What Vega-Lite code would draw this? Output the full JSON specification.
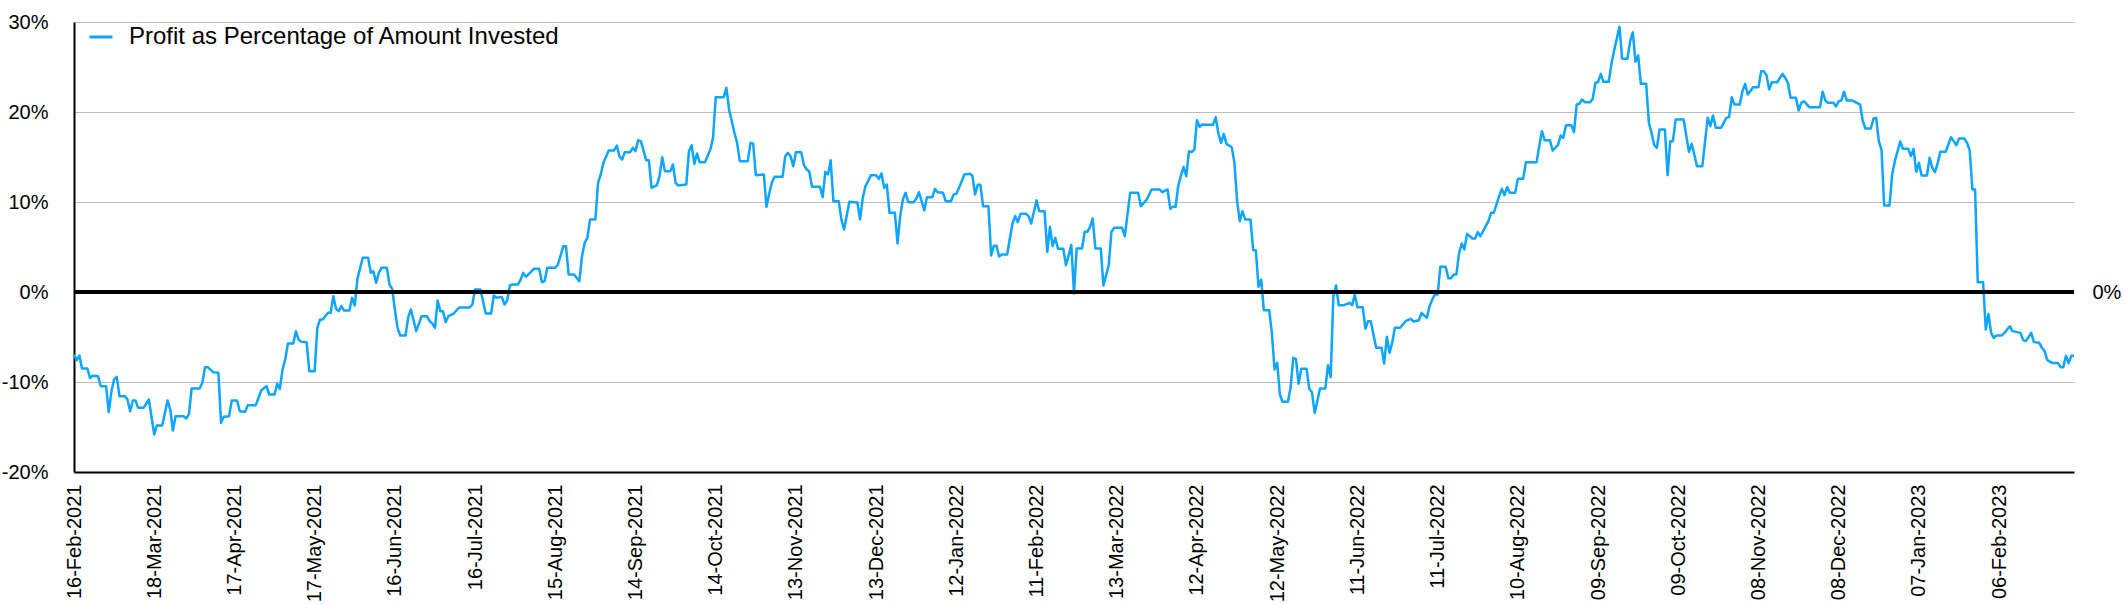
{
  "$schema": "https://vega.github.io/schema/vega-lite/v6.json",
  "width": 2000,
  "height": 450,
  "autosize": {"type": "none"},
  "padding": {"left": 74, "top": 22, "right": 50, "bottom": 132},
  "background": "white",
  "config": {"view": {"stroke": null}, "font": "Liberation Sans"},
  "data": {"values": [
{"date":"2021-02-16","pct":-6.94},{"date":"2021-02-17","pct":-7.57},{"date":"2021-02-18","pct":-7.06},{"date":"2021-02-19","pct":-8.50},{"date":"2021-02-21","pct":-8.50},{"date":"2021-02-22","pct":-9.54},{"date":"2021-02-23","pct":-9.31},{"date":"2021-02-25","pct":-9.35},{"date":"2021-02-26","pct":-10.46},{"date":"2021-02-28","pct":-10.46},
{"date":"2021-03-01","pct":-13.35},{"date":"2021-03-02","pct":-11.02},{"date":"2021-03-03","pct":-9.72},{"date":"2021-03-04","pct":-9.43},{"date":"2021-03-05","pct":-11.57},{"date":"2021-03-07","pct":-11.57},{"date":"2021-03-08","pct":-11.94},{"date":"2021-03-09","pct":-13.24},{"date":"2021-03-10","pct":-12.06},{"date":"2021-03-11","pct":-12.06},{"date":"2021-03-12","pct":-12.87},{"date":"2021-03-14","pct":-12.87},{"date":"2021-03-16","pct":-11.94},{"date":"2021-03-18","pct":-15.83},{"date":"2021-03-19","pct":-14.83},{"date":"2021-03-21","pct":-14.83},{"date":"2021-03-23","pct":-12.06},{"date":"2021-03-24","pct":-13.06},{"date":"2021-03-25","pct":-15.39},{"date":"2021-03-26","pct":-13.80},{"date":"2021-03-29","pct":-13.80},{"date":"2021-03-30","pct":-14.06},{"date":"2021-03-31","pct":-13.54},
{"date":"2021-04-01","pct":-10.72},{"date":"2021-04-04","pct":-10.72},{"date":"2021-04-05","pct":-10.09},{"date":"2021-04-06","pct":-8.35},{"date":"2021-04-07","pct":-8.35},{"date":"2021-04-09","pct":-8.91},{"date":"2021-04-11","pct":-8.98},{"date":"2021-04-12","pct":-14.54},{"date":"2021-04-13","pct":-13.87},{"date":"2021-04-15","pct":-13.80},{"date":"2021-04-16","pct":-12.06},{"date":"2021-04-18","pct":-12.06},{"date":"2021-04-19","pct":-13.24},{"date":"2021-04-21","pct":-13.31},{"date":"2021-04-22","pct":-12.57},{"date":"2021-04-25","pct":-12.57},{"date":"2021-04-27","pct":-10.94},{"date":"2021-04-29","pct":-10.46},{"date":"2021-04-30","pct":-11.39},
{"date":"2021-05-02","pct":-11.39},{"date":"2021-05-03","pct":-10.20},{"date":"2021-05-04","pct":-10.76},{"date":"2021-05-05","pct":-8.61},{"date":"2021-05-06","pct":-7.50},{"date":"2021-05-07","pct":-5.72},{"date":"2021-05-09","pct":-5.72},{"date":"2021-05-10","pct":-4.35},{"date":"2021-05-11","pct":-5.28},{"date":"2021-05-12","pct":-5.54},{"date":"2021-05-14","pct":-5.57},{"date":"2021-05-15","pct":-8.80},{"date":"2021-05-17","pct":-8.80},{"date":"2021-05-18","pct":-3.98},{"date":"2021-05-19","pct":-3.06},{"date":"2021-05-20","pct":-3.06},{"date":"2021-05-22","pct":-2.31},{"date":"2021-05-23","pct":-2.31},{"date":"2021-05-24","pct":-0.46},{"date":"2021-05-25","pct":-1.87},{"date":"2021-05-26","pct":-2.13},{"date":"2021-05-27","pct":-1.57},{"date":"2021-05-28","pct":-2.06},{"date":"2021-05-30","pct":-2.06},{"date":"2021-05-31","pct":-0.65},
{"date":"2021-06-01","pct":-1.50},{"date":"2021-06-02","pct":1.46},{"date":"2021-06-04","pct":3.80},{"date":"2021-06-06","pct":3.80},{"date":"2021-06-07","pct":2.13},{"date":"2021-06-08","pct":2.31},{"date":"2021-06-09","pct":1.02},{"date":"2021-06-10","pct":2.13},{"date":"2021-06-11","pct":2.69},{"date":"2021-06-13","pct":2.69},{"date":"2021-06-14","pct":0.83},{"date":"2021-06-15","pct":0.35},{"date":"2021-06-16","pct":-1.94},{"date":"2021-06-17","pct":-3.98},{"date":"2021-06-18","pct":-4.83},{"date":"2021-06-20","pct":-4.83},{"date":"2021-06-21","pct":-2.80},{"date":"2021-06-22","pct":-1.94},{"date":"2021-06-24","pct":-4.35},{"date":"2021-06-26","pct":-2.69},{"date":"2021-06-28","pct":-2.69},{"date":"2021-06-29","pct":-3.24},{"date":"2021-06-30","pct":-3.50},
{"date":"2021-07-01","pct":-3.98},{"date":"2021-07-02","pct":-0.94},{"date":"2021-07-03","pct":-2.13},{"date":"2021-07-04","pct":-2.13},{"date":"2021-07-05","pct":-3.35},{"date":"2021-07-06","pct":-2.69},{"date":"2021-07-08","pct":-2.39},{"date":"2021-07-10","pct":-1.72},{"date":"2021-07-14","pct":-1.72},{"date":"2021-07-15","pct":-1.39},{"date":"2021-07-16","pct":0.28},{"date":"2021-07-18","pct":0.28},{"date":"2021-07-20","pct":-2.39},{"date":"2021-07-22","pct":-2.39},{"date":"2021-07-23","pct":-0.39},{"date":"2021-07-24","pct":-0.65},{"date":"2021-07-26","pct":-0.54},{"date":"2021-07-27","pct":-1.39},{"date":"2021-07-28","pct":-0.94},{"date":"2021-07-29","pct":0.72},{"date":"2021-07-30","pct":0.83},
{"date":"2021-08-01","pct":0.83},{"date":"2021-08-02","pct":1.35},{"date":"2021-08-03","pct":2.13},{"date":"2021-08-04","pct":1.69},{"date":"2021-08-07","pct":2.57},{"date":"2021-08-09","pct":2.57},{"date":"2021-08-10","pct":1.09},{"date":"2021-08-11","pct":1.20},{"date":"2021-08-12","pct":2.69},{"date":"2021-08-15","pct":2.69},{"date":"2021-08-16","pct":3.06},{"date":"2021-08-18","pct":5.09},{"date":"2021-08-19","pct":5.09},{"date":"2021-08-20","pct":1.94},{"date":"2021-08-22","pct":1.94},{"date":"2021-08-24","pct":1.20},{"date":"2021-08-25","pct":3.98},{"date":"2021-08-26","pct":5.46},{"date":"2021-08-27","pct":6.02},{"date":"2021-08-28","pct":8.06},{"date":"2021-08-30","pct":8.06},{"date":"2021-08-31","pct":12.13},
{"date":"2021-09-01","pct":13.06},{"date":"2021-09-02","pct":14.35},{"date":"2021-09-04","pct":15.72},{"date":"2021-09-06","pct":15.72},{"date":"2021-09-07","pct":16.28},{"date":"2021-09-08","pct":15.09},{"date":"2021-09-09","pct":14.72},{"date":"2021-09-10","pct":15.54},{"date":"2021-09-12","pct":15.54},{"date":"2021-09-13","pct":16.02},{"date":"2021-09-14","pct":15.65},{"date":"2021-09-15","pct":16.87},{"date":"2021-09-16","pct":16.76},{"date":"2021-09-18","pct":14.65},{"date":"2021-09-19","pct":14.65},{"date":"2021-09-20","pct":11.57},{"date":"2021-09-22","pct":11.87},{"date":"2021-09-23","pct":12.87},{"date":"2021-09-24","pct":14.98},{"date":"2021-09-25","pct":13.43},{"date":"2021-09-27","pct":13.43},{"date":"2021-09-28","pct":14.17},{"date":"2021-09-29","pct":12.13},{"date":"2021-09-30","pct":11.83},
{"date":"2021-10-03","pct":11.94},{"date":"2021-10-04","pct":15.65},{"date":"2021-10-05","pct":16.31},{"date":"2021-10-06","pct":14.24},{"date":"2021-10-07","pct":15.39},{"date":"2021-10-08","pct":14.43},{"date":"2021-10-10","pct":14.43},{"date":"2021-10-12","pct":15.83},{"date":"2021-10-13","pct":17.13},{"date":"2021-10-14","pct":21.65},{"date":"2021-10-17","pct":21.65},{"date":"2021-10-18","pct":22.69},{"date":"2021-10-19","pct":20.28},{"date":"2021-10-21","pct":17.69},{"date":"2021-10-22","pct":16.57},{"date":"2021-10-23","pct":14.54},{"date":"2021-10-26","pct":14.54},{"date":"2021-10-27","pct":16.57},{"date":"2021-10-28","pct":16.50},{"date":"2021-10-29","pct":12.98},
{"date":"2021-11-01","pct":13.06},{"date":"2021-11-02","pct":9.46},{"date":"2021-11-03","pct":10.94},{"date":"2021-11-04","pct":12.13},{"date":"2021-11-05","pct":12.80},{"date":"2021-11-08","pct":12.80},{"date":"2021-11-09","pct":15.09},{"date":"2021-11-10","pct":15.46},{"date":"2021-11-11","pct":15.09},{"date":"2021-11-12","pct":13.98},{"date":"2021-11-13","pct":15.54},{"date":"2021-11-15","pct":15.54},{"date":"2021-11-16","pct":14.09},{"date":"2021-11-17","pct":13.61},{"date":"2021-11-18","pct":13.39},{"date":"2021-11-19","pct":11.69},{"date":"2021-11-22","pct":11.69},{"date":"2021-11-23","pct":10.54},{"date":"2021-11-24","pct":13.35},{"date":"2021-11-25","pct":13.06},{"date":"2021-11-26","pct":14.65},{"date":"2021-11-27","pct":10.09},{"date":"2021-11-29","pct":10.09},{"date":"2021-11-30","pct":8.06},
{"date":"2021-12-01","pct":6.94},{"date":"2021-12-03","pct":10.02},{"date":"2021-12-06","pct":9.94},{"date":"2021-12-07","pct":8.06},{"date":"2021-12-08","pct":10.46},{"date":"2021-12-09","pct":11.76},{"date":"2021-12-10","pct":12.31},{"date":"2021-12-11","pct":12.98},{"date":"2021-12-13","pct":12.98},{"date":"2021-12-14","pct":12.57},{"date":"2021-12-15","pct":13.17},{"date":"2021-12-16","pct":11.57},{"date":"2021-12-17","pct":11.94},{"date":"2021-12-18","pct":8.80},{"date":"2021-12-20","pct":8.80},{"date":"2021-12-21","pct":5.39},{"date":"2021-12-22","pct":8.43},{"date":"2021-12-23","pct":10.28},{"date":"2021-12-24","pct":11.02},{"date":"2021-12-25","pct":9.98},{"date":"2021-12-27","pct":9.98},{"date":"2021-12-28","pct":10.35},{"date":"2021-12-29","pct":11.09},{"date":"2021-12-31","pct":9.06},
{"date":"2022-01-01","pct":10.54},{"date":"2022-01-03","pct":10.54},{"date":"2022-01-04","pct":11.46},{"date":"2022-01-05","pct":11.09},{"date":"2022-01-07","pct":11.02},{"date":"2022-01-08","pct":10.09},{"date":"2022-01-10","pct":10.09},{"date":"2022-01-11","pct":10.83},{"date":"2022-01-12","pct":10.91},{"date":"2022-01-13","pct":11.57},{"date":"2022-01-15","pct":13.06},{"date":"2022-01-17","pct":13.13},{"date":"2022-01-18","pct":12.94},{"date":"2022-01-19","pct":10.83},{"date":"2022-01-20","pct":11.91},{"date":"2022-01-21","pct":11.91},{"date":"2022-01-22","pct":9.54},{"date":"2022-01-24","pct":9.54},{"date":"2022-01-25","pct":4.06},{"date":"2022-01-26","pct":5.13},{"date":"2022-01-27","pct":5.13},{"date":"2022-01-28","pct":3.94},{"date":"2022-01-29","pct":4.17},{"date":"2022-01-31","pct":4.17},
{"date":"2022-02-01","pct":5.91},{"date":"2022-02-02","pct":7.61},{"date":"2022-02-03","pct":8.43},{"date":"2022-02-04","pct":7.76},{"date":"2022-02-05","pct":8.69},{"date":"2022-02-07","pct":8.69},{"date":"2022-02-08","pct":8.43},{"date":"2022-02-09","pct":7.61},{"date":"2022-02-11","pct":10.20},{"date":"2022-02-12","pct":8.98},{"date":"2022-02-14","pct":8.98},{"date":"2022-02-15","pct":4.46},{"date":"2022-02-16","pct":7.24},{"date":"2022-02-17","pct":5.09},{"date":"2022-02-18","pct":6.02},{"date":"2022-02-19","pct":4.80},{"date":"2022-02-21","pct":4.80},{"date":"2022-02-22","pct":2.98},{"date":"2022-02-23","pct":4.06},{"date":"2022-02-24","pct":5.24},{"date":"2022-02-25","pct":-0.17},{"date":"2022-02-26","pct":4.83},{"date":"2022-02-28","pct":4.83},
{"date":"2022-03-01","pct":6.69},{"date":"2022-03-02","pct":6.69},{"date":"2022-03-03","pct":7.24},{"date":"2022-03-04","pct":8.17},{"date":"2022-03-05","pct":4.83},{"date":"2022-03-07","pct":4.83},{"date":"2022-03-08","pct":0.72},{"date":"2022-03-09","pct":1.87},{"date":"2022-03-10","pct":2.98},{"date":"2022-03-11","pct":6.69},{"date":"2022-03-12","pct":7.13},{"date":"2022-03-15","pct":7.13},{"date":"2022-03-16","pct":6.20},{"date":"2022-03-18","pct":11.02},{"date":"2022-03-21","pct":11.02},{"date":"2022-03-22","pct":9.54},{"date":"2022-03-24","pct":10.17},{"date":"2022-03-25","pct":10.76},{"date":"2022-03-26","pct":11.39},{"date":"2022-03-29","pct":11.39},{"date":"2022-03-30","pct":11.09},
{"date":"2022-04-01","pct":11.39},{"date":"2022-04-02","pct":9.24},{"date":"2022-04-03","pct":9.46},{"date":"2022-04-04","pct":9.46},{"date":"2022-04-05","pct":11.83},{"date":"2022-04-06","pct":12.94},{"date":"2022-04-07","pct":13.91},{"date":"2022-04-08","pct":12.87},{"date":"2022-04-09","pct":15.65},{"date":"2022-04-10","pct":15.54},{"date":"2022-04-11","pct":15.83},{"date":"2022-04-12","pct":19.09},{"date":"2022-04-13","pct":18.35},{"date":"2022-04-14","pct":18.61},{"date":"2022-04-16","pct":18.57},{"date":"2022-04-18","pct":18.57},{"date":"2022-04-19","pct":19.43},{"date":"2022-04-20","pct":17.61},{"date":"2022-04-21","pct":16.57},{"date":"2022-04-22","pct":17.57},{"date":"2022-04-23","pct":16.46},{"date":"2022-04-25","pct":16.09},{"date":"2022-04-26","pct":14.35},{"date":"2022-04-27","pct":10.09},{"date":"2022-04-28","pct":7.87},{"date":"2022-04-29","pct":8.98},{"date":"2022-04-30","pct":8.06},
{"date":"2022-05-02","pct":8.06},{"date":"2022-05-03","pct":4.65},{"date":"2022-05-04","pct":4.65},{"date":"2022-05-05","pct":0.57},{"date":"2022-05-06","pct":1.39},{"date":"2022-05-07","pct":-2.02},{"date":"2022-05-09","pct":-2.02},{"date":"2022-05-10","pct":-4.54},{"date":"2022-05-11","pct":-8.61},{"date":"2022-05-12","pct":-7.87},{"date":"2022-05-13","pct":-11.39},{"date":"2022-05-14","pct":-12.20},{"date":"2022-05-16","pct":-12.20},{"date":"2022-05-17","pct":-10.65},{"date":"2022-05-18","pct":-7.31},{"date":"2022-05-19","pct":-7.43},{"date":"2022-05-20","pct":-10.20},{"date":"2022-05-21","pct":-8.54},{"date":"2022-05-23","pct":-8.54},{"date":"2022-05-24","pct":-10.76},{"date":"2022-05-25","pct":-11.13},{"date":"2022-05-26","pct":-13.43},{"date":"2022-05-27","pct":-12.13},{"date":"2022-05-28","pct":-10.72},{"date":"2022-05-30","pct":-10.72},{"date":"2022-05-31","pct":-8.13},
{"date":"2022-06-01","pct":-9.46},{"date":"2022-06-02","pct":-0.46},{"date":"2022-06-03","pct":0.72},{"date":"2022-06-04","pct":-1.46},{"date":"2022-06-06","pct":-1.46},{"date":"2022-06-08","pct":-1.20},{"date":"2022-06-09","pct":-1.46},{"date":"2022-06-10","pct":-0.28},{"date":"2022-06-11","pct":-1.69},{"date":"2022-06-13","pct":-1.69},{"date":"2022-06-14","pct":-4.09},{"date":"2022-06-15","pct":-3.24},{"date":"2022-06-16","pct":-3.24},{"date":"2022-06-18","pct":-6.20},{"date":"2022-06-20","pct":-6.20},{"date":"2022-06-21","pct":-7.94},{"date":"2022-06-22","pct":-4.98},{"date":"2022-06-23","pct":-6.76},{"date":"2022-06-24","pct":-5.65},{"date":"2022-06-25","pct":-3.98},{"date":"2022-06-27","pct":-3.98},{"date":"2022-06-29","pct":-3.24},
{"date":"2022-07-01","pct":-2.98},{"date":"2022-07-02","pct":-3.28},{"date":"2022-07-04","pct":-3.13},{"date":"2022-07-05","pct":-2.31},{"date":"2022-07-07","pct":-2.87},{"date":"2022-07-08","pct":-1.57},{"date":"2022-07-09","pct":-0.83},{"date":"2022-07-10","pct":-0.28},{"date":"2022-07-11","pct":-0.28},{"date":"2022-07-12","pct":2.80},{"date":"2022-07-14","pct":2.80},{"date":"2022-07-15","pct":1.54},{"date":"2022-07-16","pct":1.54},{"date":"2022-07-17","pct":1.94},{"date":"2022-07-18","pct":1.94},{"date":"2022-07-19","pct":4.28},{"date":"2022-07-20","pct":5.39},{"date":"2022-07-21","pct":4.72},{"date":"2022-07-22","pct":6.46},{"date":"2022-07-24","pct":5.94},{"date":"2022-07-25","pct":5.94},{"date":"2022-07-26","pct":6.65},{"date":"2022-07-27","pct":6.20},{"date":"2022-07-28","pct":6.76},{"date":"2022-07-30","pct":7.87},{"date":"2022-07-31","pct":8.80},
{"date":"2022-08-01","pct":8.80},{"date":"2022-08-03","pct":10.65},{"date":"2022-08-04","pct":11.46},{"date":"2022-08-05","pct":10.76},{"date":"2022-08-06","pct":11.65},{"date":"2022-08-07","pct":11.02},{"date":"2022-08-09","pct":11.02},{"date":"2022-08-10","pct":12.57},{"date":"2022-08-12","pct":12.57},{"date":"2022-08-13","pct":14.43},{"date":"2022-08-17","pct":14.43},{"date":"2022-08-18","pct":16.20},{"date":"2022-08-19","pct":17.87},{"date":"2022-08-20","pct":16.87},{"date":"2022-08-22","pct":16.87},{"date":"2022-08-23","pct":15.72},{"date":"2022-08-25","pct":16.31},{"date":"2022-08-26","pct":17.39},{"date":"2022-08-27","pct":17.13},{"date":"2022-08-28","pct":18.54},{"date":"2022-08-30","pct":18.54},{"date":"2022-08-31","pct":17.76},
{"date":"2022-09-01","pct":20.83},{"date":"2022-09-02","pct":20.91},{"date":"2022-09-03","pct":21.39},{"date":"2022-09-04","pct":21.09},{"date":"2022-09-06","pct":21.09},{"date":"2022-09-07","pct":21.46},{"date":"2022-09-08","pct":23.24},{"date":"2022-09-09","pct":23.31},{"date":"2022-09-10","pct":24.24},{"date":"2022-09-11","pct":23.35},{"date":"2022-09-13","pct":23.35},{"date":"2022-09-14","pct":25.35},{"date":"2022-09-15","pct":26.83},{"date":"2022-09-17","pct":29.46},{"date":"2022-09-18","pct":25.91},{"date":"2022-09-20","pct":25.91},{"date":"2022-09-21","pct":27.87},{"date":"2022-09-22","pct":28.87},{"date":"2022-09-23","pct":25.57},{"date":"2022-09-24","pct":26.28},{"date":"2022-09-25","pct":23.13},{"date":"2022-09-27","pct":23.13},{"date":"2022-09-28","pct":18.80},{"date":"2022-09-29","pct":17.69},{"date":"2022-09-30","pct":16.31},
{"date":"2022-10-01","pct":16.02},{"date":"2022-10-02","pct":18.06},{"date":"2022-10-04","pct":18.06},{"date":"2022-10-05","pct":12.98},{"date":"2022-10-06","pct":16.76},{"date":"2022-10-07","pct":16.76},{"date":"2022-10-08","pct":19.17},{"date":"2022-10-11","pct":19.17},{"date":"2022-10-13","pct":15.57},{"date":"2022-10-14","pct":16.46},{"date":"2022-10-15","pct":15.28},{"date":"2022-10-16","pct":13.98},{"date":"2022-10-18","pct":13.98},{"date":"2022-10-20","pct":19.35},{"date":"2022-10-21","pct":18.43},{"date":"2022-10-22","pct":19.61},{"date":"2022-10-23","pct":18.24},{"date":"2022-10-25","pct":18.24},{"date":"2022-10-27","pct":19.35},{"date":"2022-10-28","pct":19.43},{"date":"2022-10-29","pct":21.65},{"date":"2022-10-30","pct":20.83},
{"date":"2022-11-01","pct":20.83},{"date":"2022-11-02","pct":22.31},{"date":"2022-11-03","pct":23.13},{"date":"2022-11-04","pct":21.94},{"date":"2022-11-06","pct":22.76},{"date":"2022-11-08","pct":22.76},{"date":"2022-11-09","pct":24.54},{"date":"2022-11-10","pct":24.54},{"date":"2022-11-11","pct":24.09},{"date":"2022-11-12","pct":22.50},{"date":"2022-11-13","pct":23.31},{"date":"2022-11-15","pct":23.31},{"date":"2022-11-17","pct":24.24},{"date":"2022-11-18","pct":23.80},{"date":"2022-11-19","pct":23.24},{"date":"2022-11-20","pct":21.57},{"date":"2022-11-22","pct":21.57},{"date":"2022-11-23","pct":20.17},{"date":"2022-11-24","pct":21.02},{"date":"2022-11-25","pct":21.20},{"date":"2022-11-27","pct":20.54},
{"date":"2022-12-01","pct":20.54},{"date":"2022-12-02","pct":22.24},{"date":"2022-12-03","pct":21.28},{"date":"2022-12-04","pct":21.02},{"date":"2022-12-06","pct":21.02},{"date":"2022-12-07","pct":20.61},{"date":"2022-12-08","pct":21.20},{"date":"2022-12-09","pct":21.28},{"date":"2022-12-10","pct":22.24},{"date":"2022-12-11","pct":21.28},{"date":"2022-12-13","pct":21.28},{"date":"2022-12-16","pct":20.83},{"date":"2022-12-17","pct":18.98},{"date":"2022-12-18","pct":18.17},{"date":"2022-12-20","pct":18.17},{"date":"2022-12-21","pct":19.28},{"date":"2022-12-22","pct":19.35},{"date":"2022-12-23","pct":16.76},{"date":"2022-12-24","pct":15.83},{"date":"2022-12-25","pct":9.61},{"date":"2022-12-27","pct":9.61},{"date":"2022-12-28","pct":13.06},{"date":"2022-12-29","pct":14.54},{"date":"2022-12-31","pct":16.72},
{"date":"2023-01-01","pct":15.91},{"date":"2023-01-03","pct":15.91},{"date":"2023-01-04","pct":15.09},{"date":"2023-01-05","pct":15.91},{"date":"2023-01-06","pct":13.35},{"date":"2023-01-07","pct":14.35},{"date":"2023-01-08","pct":12.94},{"date":"2023-01-10","pct":12.94},{"date":"2023-01-11","pct":14.91},{"date":"2023-01-12","pct":13.80},{"date":"2023-01-13","pct":13.31},{"date":"2023-01-14","pct":14.28},{"date":"2023-01-15","pct":15.57},{"date":"2023-01-17","pct":15.57},{"date":"2023-01-19","pct":17.20},{"date":"2023-01-20","pct":16.76},{"date":"2023-01-21","pct":16.31},{"date":"2023-01-22","pct":17.06},{"date":"2023-01-24","pct":17.06},{"date":"2023-01-25","pct":16.57},{"date":"2023-01-26","pct":15.72},{"date":"2023-01-27","pct":11.39},{"date":"2023-01-28","pct":11.39},{"date":"2023-01-29","pct":1.09},{"date":"2023-01-31","pct":1.09},
{"date":"2023-02-01","pct":-4.17},{"date":"2023-02-02","pct":-2.43},{"date":"2023-02-03","pct":-4.54},{"date":"2023-02-04","pct":-5.09},{"date":"2023-02-05","pct":-4.83},{"date":"2023-02-07","pct":-4.83},{"date":"2023-02-08","pct":-4.54},{"date":"2023-02-10","pct":-3.80},{"date":"2023-02-11","pct":-4.35},{"date":"2023-02-14","pct":-4.54},{"date":"2023-02-15","pct":-5.35},{"date":"2023-02-16","pct":-5.46},{"date":"2023-02-18","pct":-4.54},{"date":"2023-02-19","pct":-5.57},{"date":"2023-02-21","pct":-5.65},{"date":"2023-02-22","pct":-6.20},{"date":"2023-02-23","pct":-6.57},{"date":"2023-02-24","pct":-7.57},{"date":"2023-02-26","pct":-7.90},{"date":"2023-02-28","pct":-7.90},
{"date":"2023-03-01","pct":-8.35},{"date":"2023-03-02","pct":-8.35},{"date":"2023-03-03","pct":-7.09},{"date":"2023-03-04","pct":-7.90},{"date":"2023-03-05","pct":-7.09},{"date":"2023-03-06","pct":-7.09}
  ]},
  "layer": [
    {
      "mark": {"type": "line", "strokeWidth": 2.5, "strokeJoin": "round"},
      "encoding": {
        "x": {
          "field": "date",
          "type": "temporal",
          "scale": {
            "type": "utc",
            "nice": false,
            "domain": [{"year": 2021, "month": 2, "date": 16, "utc": true}, {"year": 2023, "month": 3, "date": 6, "utc": true}]
          },
          "axis": {
            "title": null,
            "values": [
              {"year": 2021, "month": 2, "date": 16, "utc": true},
              {"year": 2021, "month": 3, "date": 18, "utc": true},
              {"year": 2021, "month": 4, "date": 17, "utc": true},
              {"year": 2021, "month": 5, "date": 17, "utc": true},
              {"year": 2021, "month": 6, "date": 16, "utc": true},
              {"year": 2021, "month": 7, "date": 16, "utc": true},
              {"year": 2021, "month": 8, "date": 15, "utc": true},
              {"year": 2021, "month": 9, "date": 14, "utc": true},
              {"year": 2021, "month": 10, "date": 14, "utc": true},
              {"year": 2021, "month": 11, "date": 13, "utc": true},
              {"year": 2021, "month": 12, "date": 13, "utc": true},
              {"year": 2022, "month": 1, "date": 12, "utc": true},
              {"year": 2022, "month": 2, "date": 11, "utc": true},
              {"year": 2022, "month": 3, "date": 13, "utc": true},
              {"year": 2022, "month": 4, "date": 12, "utc": true},
              {"year": 2022, "month": 5, "date": 12, "utc": true},
              {"year": 2022, "month": 6, "date": 11, "utc": true},
              {"year": 2022, "month": 7, "date": 11, "utc": true},
              {"year": 2022, "month": 8, "date": 10, "utc": true},
              {"year": 2022, "month": 9, "date": 9, "utc": true},
              {"year": 2022, "month": 10, "date": 9, "utc": true},
              {"year": 2022, "month": 11, "date": 8, "utc": true},
              {"year": 2022, "month": 12, "date": 8, "utc": true},
              {"year": 2023, "month": 1, "date": 7, "utc": true},
              {"year": 2023, "month": 2, "date": 6, "utc": true}
            ],
            "format": "%d-%b-%Y",
            "labelAngle": -90,
            "labelFontSize": 20,
            "labelColor": "#000000",
            "labelPadding": 12,
            "labelOverlap": false,
            "labelBound": false,
            "labelFlush": false,
            "ticks": false,
            "tickSize": 0,
            "grid": false,
            "domainColor": "#000000",
            "domainWidth": 2
          }
        },
        "y": {
          "field": "pct",
          "type": "quantitative",
          "scale": {"domain": [-20, 30], "nice": false, "zero": false},
          "axis": {
            "title": null,
            "values": [-20, -10, 0, 10, 20, 30],
            "labelExpr": "datum.value + '%'",
            "labelFontSize": 20,
            "labelColor": "#000000",
            "labelPadding": 26,
            "ticks": false,
            "tickSize": 0,
            "grid": true,
            "gridColor": "#bdbdbd",
            "gridWidth": 1,
            "domainColor": "#000000",
            "domainWidth": 2
          }
        },
        "color": {
          "datum": "Profit as Percentage of Amount Invested",
          "type": "nominal",
          "scale": {"range": ["#0ea5ff"]},
          "legend": {
            "title": null,
            "orient": "none",
            "legendX": 14,
            "legendY": 2,
            "padding": 0,
            "symbolType": "stroke",
            "symbolSize": 529,
            "symbolStrokeWidth": 3,
            "labelFontSize": 24,
            "labelColor": "#000000",
            "labelOffset": 15,
            "labelLimit": 0
          }
        }
      }
    },
    {
      "mark": {"type": "rule", "color": "#000000", "strokeWidth": 3},
      "encoding": {
        "y": {
          "datum": 0,
          "type": "quantitative",
          "scale": {"domain": [-20, 30], "nice": false, "zero": false},
          "axis": {
            "orient": "right",
            "title": null,
            "values": [0],
            "labelExpr": "datum.value + '%'",
            "labelFontSize": 20,
            "labelColor": "#000000",
            "labelPadding": 18,
            "ticks": false,
            "tickSize": 0,
            "grid": false,
            "domain": false
          }
        }
      }
    }
  ],
  "resolve": {"axis": {"y": "independent"}}
}
